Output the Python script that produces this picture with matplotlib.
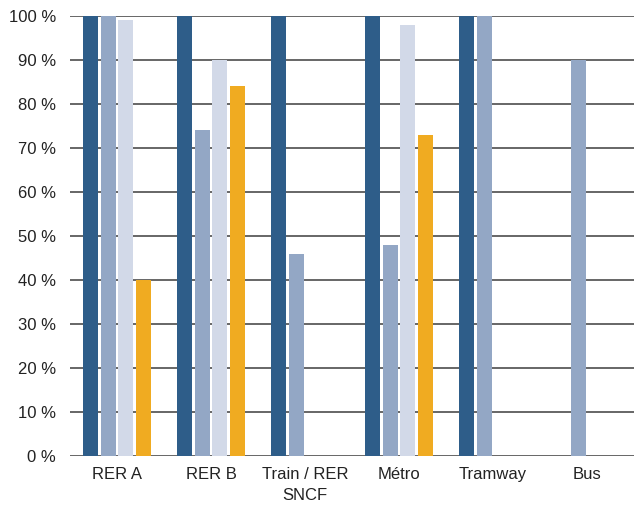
import matplotlib
matplotlib.use("Agg")
import matplotlib.pyplot as plt
import numpy as np

categories = ["RER A", "RER B", "Train / RER\nSNCF", "Métro", "Tramway", "Bus"]
series1 = [100, 100, 100, 100, 100, 0]
series2 = [100, 74, 46, 48, 100, 90]
series3 = [99, 90, 0, 98, 0, 0]
series4 = [40, 84, 0, 73, 0, 0]
yticks = [0, 10, 20, 30, 40, 50, 60, 70, 80, 90, 100]
ytick_labels = [f"{v} %" for v in yticks]

colors = ["#2e5d89", "#93a7c5", "#d2d9e8", "#f0ab21"]

plt.rcParams["font.family"] = ["Liberation Sans", "DejaVu Sans"]

fig = plt.figure(figsize=(6.34, 5.05), dpi=100)
left = 70/634
ax = fig.add_axes([left, 49/505, 1 - left, (456-16)/505])

x = np.arange(len(categories))
step = 17.5/94
width = 15/94
for i, (vals, c) in enumerate(zip([series1, series2, series3, series4], colors)):
    ax.bar(x + (i - 1.5) * step, vals, width=width, color=c, zorder=3)

ax.set_xlim(-0.5, len(categories) - 0.5)
ax.set_ylim(0, 100)
ax.set_yticks(yticks)
ax.set_yticklabels(ytick_labels, fontsize=12, color="#222222")
ax.set_xticks(x)
ax.set_xticklabels(categories, fontsize=12, color="#222222", linespacing=1.45)
ax.tick_params(axis="both", length=0)
ax.tick_params(axis="y", pad=10)
ax.tick_params(axis="x", pad=8)
ax.grid(axis="y", color="#5a5a5a", linewidth=1.3, zorder=1)
for s in ax.spines.values():
    s.set_visible(False)

fig.savefig("out.png", dpi=100)
